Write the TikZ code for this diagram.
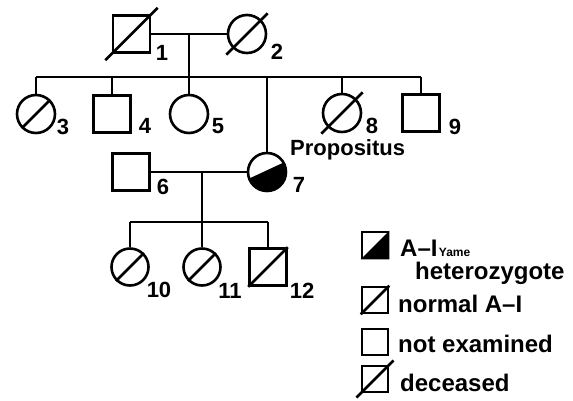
\documentclass[tikz,border=0pt]{standalone}
\usepackage{fontspec}
\setmainfont{Liberation Sans}
\usetikzlibrary{calc}
\begin{document}
\begin{tikzpicture}[x=1pt,y=-1pt,
  thickline/.style={line width=2.6pt},
  male/.style={draw, thickline, rectangle, minimum size=37pt, inner sep=0pt},
  female/.style={draw, thickline, circle, minimum size=38pt, inner sep=0pt},
  keybox/.style={draw, thickline, rectangle, minimum size=26pt, inner sep=0pt},
  link/.style={thickline},
  normalslash/.style={thickline},
  deadslash/.style={thickline, shorten <=-9pt, shorten >=-9pt},
  num/.style={font=\bfseries\fontsize{22}{24}\selectfont, inner sep=0pt},
  legtext/.style={font=\bfseries\fontsize{24}{26}\selectfont, inner sep=0pt, anchor=base west},
  ]
\useasboundingbox (0,0) rectangle (573,400);

% generation I
\node[male]   (p1) at (131.5,34) {};
\node[female] (p2) at (247,34) {};
\draw[link] (p1) -- (p2);
\draw[deadslash] (p1.south west) -- (p1.north east);
\draw[deadslash] (p2.225) -- (p2.45);
\node[num] at (162,53) {1};
\node[num] at (277,52) {2};

% generation II
\coordinate (d1) at (189,34);
\coordinate (s1) at (189,77);
\coordinate (sl) at (36,77);
\coordinate (sr) at (421,77);
\draw[link] (d1) -- (s1);
\draw[link] (sl) -- (sr);

\node[female] (c3) at (36,114) {};
\node[male]   (c4) at (112,114) {};
\node[female] (c5) at (189,114) {};
\node[female] (c7) at (267,172) {};
\node[female] (c8) at (342,113) {};
\node[male]   (c9) at (421,113) {};
\foreach \c in {c3,c4,c5,c7,c8,c9}
  \draw[link] (\c |- sl) -- (\c);
\draw[normalslash] (c3.225) -- (c3.45);
\draw[deadslash] (c8.225) -- (c8.45);

% propositus: lower right half shaded
\begin{scope}
  \clip (229.9,187.5) -- (298.7,155.5) -- (298.7,215) -- (229.9,230) -- cycle;
  \fill (267,172) circle (19.5);
\end{scope}

\node[num] at (63,127) {3};
\node[num] at (145,126) {4};
\node[num] at (218,126) {5};
\node[num] at (372,126) {8};
\node[num] at (455,127) {9};
\node[num, anchor=base west] at (290,155) {Propositus};

% generation III
\node[male] (c6) at (131,172) {};
\draw[link] (c6) -- (c7);
\node[num] at (163,187) {6};
\node[num] at (299,185) {7};
\coordinate (d2) at (202,172);
\coordinate (s2) at (202,222);
\draw[link] (d2) -- (s2);

\node[female, minimum size=37pt] (c10) at (130,267) {};
\node[female, minimum size=37pt] (c11) at (202,267) {};
\node[male] (c12) at (268,267) {};
\draw[link] (c10 |- s2) -- (c12 |- s2);
\foreach \c in {c10,c11,c12}
  \draw[link] (\c |- s2) -- (\c);
\draw[normalslash] (c10.225) -- (c10.45);
\draw[normalslash] (c11.225) -- (c11.45);
\draw[normalslash] (c12.south west) -- (c12.north east);
\node[num] at (159,290) {10};
\node[num] at (230,291) {11};
\node[num] at (302,291) {12};

% key
\node[keybox] (k1) at (375,245) {};
\fill (k1.south west) -- (k1.south east) -- (k1.north east) -- cycle;
\node[keybox] (k2) at (375,300) {};
\draw[normalslash] (k2.south west) -- (k2.north east);
\node[keybox] (k3) at (375,342) {};
\node[keybox] (k4) at (375,379) {};
\draw[deadslash, shorten <=-6pt, shorten >=-6pt] (k4.south west) -- (k4.north east);

\node[legtext] (t1) at (400,256) {A–I};
\node[legtext, font=\bfseries\fontsize{12}{14}\selectfont] at ([xshift=1pt]t1.base east) {Yame};
\node[legtext] at (415,279) {heterozygote};
\node[legtext] at (398,312) {normal A–I};
\node[legtext] at (398,352) {not examined};
\node[legtext] at (400,391) {deceased};
\end{tikzpicture}
\end{document}
